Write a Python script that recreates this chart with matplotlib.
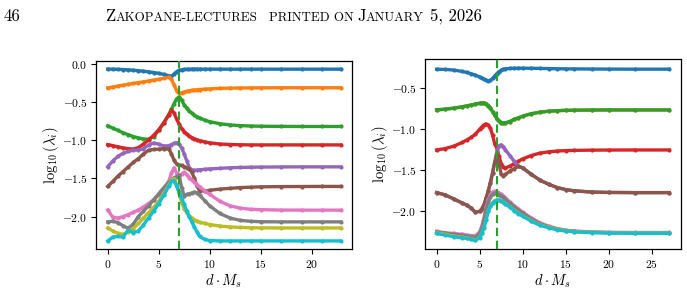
import numpy as np
import matplotlib
matplotlib.use("Agg")
import matplotlib.pyplot as plt

plt.rcParams['font.family'] = 'serif'
plt.rcParams['font.serif'] = ['cmr10']
plt.rcParams['mathtext.fontset'] = 'cm'
plt.rcParams['axes.formatter.use_mathtext'] = True
plt.rcParams['axes.unicode_minus'] = True

# ---------------- data: left panel ----------------
xL = [0, 0.5, 1, 1.5, 2, 2.5, 3, 3.5, 4, 4.5, 5, 5.5, 6, 6.25, 6.5, 6.75, 7, 7.25, 7.5, 7.75,
      8, 8.25, 8.5, 8.75, 9, 9.5, 10, 11, 12, 13, 14, 15, 17, 19, 21, 22.85]

blueL = [-0.065, -0.066, -0.068, -0.071, -0.075, -0.080, -0.086, -0.093, -0.101, -0.110, -0.121, -0.135,
         -0.152, -0.160, -0.130, -0.100, -0.082, -0.074, -0.070, -0.068, -0.067, -0.066, -0.066, -0.066,
         -0.066, -0.066, -0.066, -0.066, -0.066, -0.066, -0.066, -0.066, -0.066, -0.066, -0.066, -0.066]
orangeL = [-0.310, -0.300, -0.288, -0.276, -0.265, -0.254, -0.243, -0.232, -0.221, -0.210, -0.198, -0.186,
           -0.172, -0.200, -0.270, -0.350, -0.385, -0.375, -0.365, -0.356, -0.350, -0.345, -0.340, -0.336,
           -0.333, -0.328, -0.324, -0.318, -0.315, -0.313, -0.312, -0.311, -0.310, -0.310, -0.310, -0.310]
greenL = [-0.810, -0.840, -0.870, -0.900, -0.925, -0.950, -0.968, -0.982, -0.985, -0.950, -0.870, -0.770,
          -0.655, -0.590, -0.520, -0.455, -0.430, -0.475, -0.535, -0.580, -0.615, -0.645, -0.670, -0.690,
          -0.705, -0.735, -0.755, -0.782, -0.798, -0.807, -0.812, -0.815, -0.817, -0.818, -0.818, -0.818]
redL = [-1.055, -1.070, -1.085, -1.100, -1.110, -1.115, -1.095, -1.050, -0.995, -0.935, -0.860, -0.770,
        -0.665, -0.605, -0.640, -0.720, -0.790, -0.845, -0.885, -0.920, -0.945, -0.965, -0.980, -0.993,
        -1.003, -1.020, -1.033, -1.048, -1.055, -1.058, -1.060, -1.060, -1.060, -1.060, -1.060, -1.060]
purpleL = [-1.347, -1.270, -1.210, -1.170, -1.145, -1.130, -1.125, -1.110, -1.060, -1.035, -1.050, -1.075,
           -1.070, -1.055, -1.040, -1.030, -1.050, -1.100, -1.180, -1.270, -1.360, -1.390, -1.395, -1.390,
           -1.386, -1.380, -1.375, -1.367, -1.360, -1.356, -1.353, -1.351, -1.349, -1.348, -1.348, -1.348]
brownL = [-1.605, -1.540, -1.470, -1.410, -1.350, -1.290, -1.240, -1.180, -1.130, -1.120, -1.115, -1.110,
          -1.115, -1.180, -1.260, -1.310, -1.325, -1.330, -1.345, -1.360, -1.380, -1.420, -1.500, -1.600,
          -1.660, -1.665, -1.655, -1.640, -1.630, -1.620, -1.615, -1.610, -1.607, -1.606, -1.605, -1.605]
pinkL = [-1.915, -2.010, -2.020, -2.000, -1.975, -1.945, -1.915, -1.875, -1.830, -1.780, -1.720, -1.640,
         -1.530, -1.430, -1.360, -1.430, -1.480, -1.440, -1.420, -1.450, -1.490, -1.520, -1.550, -1.580,
         -1.610, -1.660, -1.710, -1.800, -1.860, -1.890, -1.905, -1.910, -1.915, -1.916, -1.916, -1.916]
grayL = [-2.070, -2.060, -2.080, -2.120, -2.155, -2.100, -2.000, -1.930, -1.860, -1.780, -1.700, -1.620,
         -1.550, -1.520, -1.490, -1.475, -1.460, -1.620, -1.730, -1.710, -1.700, -1.690, -1.680, -1.685,
         -1.720, -1.790, -1.860, -1.960, -2.020, -2.050, -2.063, -2.068, -2.070, -2.070, -2.070, -2.070]
oliveL = [-2.150, -2.190, -2.220, -2.235, -2.200, -2.160, -2.090, -2.020, -1.950, -1.880, -1.800, -1.700,
          -1.580, -1.520, -1.505, -1.580, -1.690, -1.820, -1.900, -1.950, -1.990, -2.020, -2.045, -2.060,
          -2.075, -2.090, -2.105, -2.125, -2.137, -2.143, -2.147, -2.149, -2.150, -2.150, -2.150, -2.150]
cyanL = [-2.320, -2.270, -2.260, -2.270, -2.180, -2.210, -2.190, -2.110, -2.020, -1.930, -1.830, -1.720,
         -1.600, -1.540, -1.530, -1.600, -1.680, -1.760, -1.840, -1.930, -2.000, -2.070, -2.140, -2.200,
         -2.260, -2.300, -2.315, -2.320, -2.320, -2.320, -2.320, -2.320, -2.320, -2.320, -2.320, -2.320]

# ---------------- data: right panel ----------------
xR = [0, 1, 2, 3, 3.5, 4, 4.5, 5, 5.25, 5.5, 5.75, 6, 6.25, 6.5, 6.75, 7, 7.25, 7.5, 7.75, 8,
      8.5, 9, 9.5, 10, 11, 12, 13, 14, 15, 16, 18, 20, 23, 27]

blueR = [-0.268, -0.270, -0.278, -0.295, -0.307, -0.322, -0.340, -0.362, -0.375, -0.390, -0.403, -0.410,
         -0.403, -0.380, -0.350, -0.320, -0.297, -0.280, -0.270, -0.263, -0.258, -0.256, -0.255, -0.255,
         -0.256, -0.258, -0.260, -0.262, -0.263, -0.264, -0.265, -0.266, -0.267, -0.267]
greenR = [-0.763, -0.755, -0.742, -0.725, -0.715, -0.705, -0.693, -0.683, -0.680, -0.680, -0.690, -0.710,
          -0.740, -0.785, -0.830, -0.870, -0.900, -0.918, -0.925, -0.922, -0.905, -0.880, -0.860, -0.840,
          -0.810, -0.792, -0.780, -0.773, -0.769, -0.767, -0.765, -0.764, -0.764, -0.764]
orangeR = greenR
redR = [-1.252, -1.235, -1.205, -1.160, -1.130, -1.100, -1.060, -1.000, -0.970, -0.945, -0.935, -0.950,
        -0.990, -1.070, -1.180, -1.230, -1.330, -1.420, -1.460, -1.470, -1.450, -1.420, -1.390, -1.360,
        -1.320, -1.290, -1.275, -1.265, -1.260, -1.257, -1.254, -1.253, -1.252, -1.252]
brownR = [-1.772, -1.800, -1.850, -1.900, -1.925, -1.960, -2.010, -2.000, -1.970, -1.920, -1.840, -1.750,
          -1.650, -1.530, -1.400, -1.300, -1.420, -1.550, -1.565, -1.550, -1.510, -1.480, -1.450, -1.470,
          -1.550, -1.620, -1.670, -1.710, -1.735, -1.750, -1.765, -1.770, -1.772, -1.772]
purpleR = [-1.772, -1.800, -1.850, -1.900, -1.925, -1.960, -2.010, -2.000, -1.970, -1.920, -1.840, -1.750,
           -1.650, -1.530, -1.400, -1.270, -1.200, -1.190, -1.210, -1.250, -1.320, -1.390, -1.450, -1.470,
           -1.550, -1.620, -1.670, -1.710, -1.735, -1.750, -1.765, -1.770, -1.772, -1.772]
pinkR = [-2.245, -2.260, -2.270, -2.280, -2.290, -2.295, -2.300, -2.250, -2.180, -2.080, -1.950, -1.860,
         -1.800, -1.765, -1.755, -1.760, -1.775, -1.790, -1.810, -1.835, -1.885, -1.930, -1.970, -2.010,
         -2.080, -2.140, -2.180, -2.210, -2.230, -2.240, -2.250, -2.255, -2.258, -2.258]
grayR = [-2.252, -2.268, -2.280, -2.292, -2.302, -2.308, -2.315, -2.270, -2.200, -2.100, -1.975, -1.890,
         -1.825, -1.790, -1.780, -1.783, -1.795, -1.810, -1.830, -1.855, -1.900, -1.945, -1.985, -2.025,
         -2.092, -2.150, -2.188, -2.215, -2.235, -2.245, -2.255, -2.260, -2.262, -2.262]
oliveR = [-2.262, -2.282, -2.302, -2.318, -2.323, -2.333, -2.348, -2.315, -2.262, -2.192, -2.095, -1.995,
          -1.935, -1.895, -1.870, -1.860, -1.860, -1.870, -1.885, -1.905, -1.945, -1.985, -2.025, -2.055,
          -2.115, -2.165, -2.195, -2.220, -2.236, -2.246, -2.256, -2.261, -2.264, -2.264]
cyanR = [-2.270, -2.290, -2.310, -2.325, -2.330, -2.340, -2.355, -2.320, -2.270, -2.200, -2.100, -2.000,
         -1.940, -1.900, -1.875, -1.865, -1.865, -1.875, -1.890, -1.910, -1.950, -1.990, -2.030, -2.060,
         -2.120, -2.170, -2.200, -2.225, -2.240, -2.250, -2.260, -2.265, -2.268, -2.268]

transition_x = 7.0

left_series = [blueL, orangeL, greenL, redL, purpleL, brownL, pinkL, grayL, oliveL, cyanL]
right_series = [blueR, orangeR, greenR, redR, purpleR, brownR, pinkR, grayR, oliveR, cyanR]
colors = ['C0', 'C1', 'C2', 'C3', 'C4', 'C5', 'C6', 'C7', 'C8', 'C9']

W, H = 687, 291
fig = plt.figure(figsize=(W / 100, H / 100), dpi=100)

axL = fig.add_axes([96 / W, 1 - 249.3 / H, (352 - 96) / W, (249.3 - 60.7) / H])
axR = fig.add_axes([425 / W, 1 - 249.3 / H, (680.7 - 425) / W, (249.3 - 59) / H])

for ax, xs, series in [(axL, xL, left_series), (axR, xR, right_series)]:
    for ys, c in zip(series, colors):
        ax.plot(xs, ys, color=c, lw=2.4, marker='o', ms=3.0, mew=0)
    ax.axvline(transition_x, color='C2', ls='--', lw=1.5, dashes=(4, 2.2), zorder=5)
    ax.set_xlabel(r'$d\cdot M_s$', fontsize=10.5, labelpad=2)
    ax.set_ylabel(r'$\log_{10}(\lambda_i)$', fontsize=10.5)
    ax.tick_params(labelsize=8.3, length=3.5, width=0.8, pad=2.5)
    ax.yaxis.set_label_coords(-0.137, 0.5)
    for s in ax.spines.values():
        s.set_linewidth(0.9)

axL.set_xticks([0, 5, 10, 15, 20])
axL.set_yticks([0.0, -0.5, -1.0, -1.5, -2.0])
axR.set_xticks([0, 5, 10, 15, 20, 25])
axR.set_yticks([-0.5, -1.0, -1.5, -2.0])
axL.set_xlim(-1.15, 23.95)
axL.set_ylim(-2.43, 0.045)
axR.set_xlim(-1.35, 28.35)
axR.set_ylim(-2.463, -0.143)

# ---------------- page header (small caps emulation) ----------------
big, small = 12, 9.3
base_y = 1 - 20.7 / H
renderer = fig.canvas.get_renderer()


def chain(pieces, x0px):
    x = x0px
    for txt, size in pieces:
        t = fig.text(x / W, base_y, txt, fontsize=size, va='baseline', ha='left')
        x += t.get_window_extent(renderer).width
    return x

chain([('46', big)], 3)
chain([('Z', big), ('AKOPANE-LECTURES', small)], 105)
chain([('PRINTED ON', small)], 269)
chain([('J', big), ('ANUARY', small)], 357)
chain([('5, 2026', big)], 430)

fig.savefig('out.png', dpi=100)
